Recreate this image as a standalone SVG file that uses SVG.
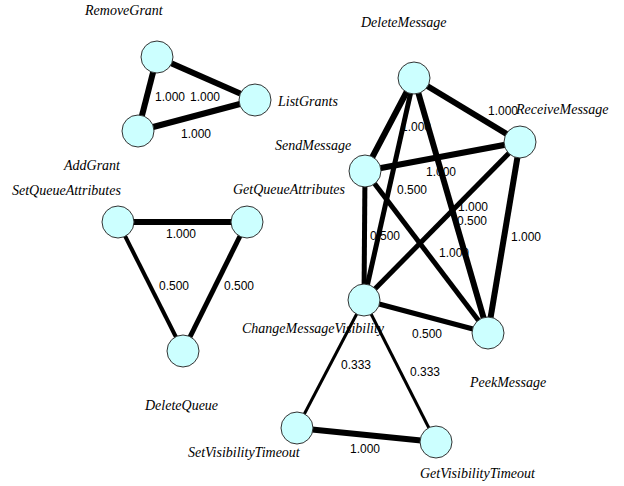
<svg xmlns="http://www.w3.org/2000/svg" width="624" height="486" viewBox="0 0 624 486">
<style>
.e{stroke:#000;fill:none;stroke-linecap:butt}
.w6{stroke-width:6}
.w5{stroke-width:5}
.w4{stroke-width:4}
.w3{stroke-width:3}
.n circle{fill:#ccffff;stroke:#333;stroke-width:1}
.n text{font-family:"Liberation Serif","Times New Roman",serif;font-style:italic;font-size:14px;fill:#000}
.l{font-family:"Liberation Sans",Arial,sans-serif;font-size:12px;fill:#000}
</style>
<rect width="624" height="486" fill="#fff"/>
<g id="edge-labels">
<text class="l" x="155" y="101">1.000</text>
<text class="l" x="190" y="101">1.000</text>
<text class="l" x="181" y="138">1.000</text>
<text class="l" x="166" y="238">1.000</text>
<text class="l" x="159" y="290">0.500</text>
<text class="l" x="224" y="290">0.500</text>
<text class="l" x="488" y="115">1.000</text>
<text class="l" x="401" y="131">1.000</text>
<text class="l" x="426" y="176">1.000</text>
<text class="l" x="397" y="194">0.500</text>
<text class="l" x="458" y="211">1.000</text>
<text class="l" x="457" y="225">0.500</text>
<text class="l" x="370" y="240">0.500</text>
<text class="l" x="439" y="257">1.000</text>
<text class="l" x="511" y="241">1.000</text>
<text class="l" x="412" y="338">0.500</text>
<text class="l" x="341" y="369">0.333</text>
<text class="l" x="410" y="376">0.333</text>
<text class="l" x="350" y="453">1.000</text>
</g>
<g id="connectors">
<line class="e w6" x1="157" y1="57" x2="255" y2="100"/>
<line class="e w6" x1="157" y1="57" x2="138" y2="131"/>
<line class="e w6" x1="138" y1="131" x2="255" y2="100"/>
<line class="e w6" x1="118" y1="222" x2="247" y2="222"/>
<line class="e w4" x1="118" y1="222" x2="183" y2="351"/>
<line class="e w5" x1="247" y1="222" x2="183" y2="351"/>
<line class="e w6" x1="414" y1="78" x2="520" y2="142"/>
<line class="e w6" x1="414" y1="78" x2="365" y2="171"/>
<line class="e w5" x1="414" y1="78" x2="364" y2="300"/>
<line class="e w6" x1="414" y1="78" x2="488" y2="333"/>
<line class="e w6" x1="365" y1="171" x2="520" y2="142"/>
<line class="e w5" x1="365" y1="171" x2="364" y2="300"/>
<line class="e w5" x1="365" y1="171" x2="488" y2="333"/>
<line class="e w5" x1="520" y1="142" x2="364" y2="300"/>
<line class="e w6" x1="520" y1="142" x2="488" y2="333"/>
<line class="e w5" x1="364" y1="300" x2="488" y2="333"/>
<line class="e w3" x1="364" y1="300" x2="297" y2="428"/>
<line class="e w3" x1="364" y1="300" x2="436" y2="442"/>
<line class="e w6" x1="297" y1="428" x2="436" y2="442"/>
</g>
<g id="RemoveGrant" class="n"><circle cx="157" cy="57" r="16"/><text x="85" y="15">RemoveGrant</text></g>
<g id="ListGrants" class="n"><circle cx="255" cy="100" r="16"/><text x="278" y="106">ListGrants</text></g>
<g id="AddGrant" class="n"><circle cx="138" cy="131" r="16"/><text x="64" y="170">AddGrant</text></g>
<g id="SetQueueAttributes" class="n"><circle cx="118" cy="222" r="16"/><text x="12" y="195">SetQueueAttributes</text></g>
<g id="GetQueueAttributes" class="n"><circle cx="247" cy="222" r="16"/><text x="233" y="194">GetQueueAttributes</text></g>
<g id="DeleteQueue" class="n"><circle cx="183" cy="351" r="16"/><text x="145" y="410">DeleteQueue</text></g>
<g id="DeleteMessage" class="n"><circle cx="414" cy="78" r="16"/><text x="361" y="27">DeleteMessage</text></g>
<g id="ReceiveMessage" class="n"><circle cx="520" cy="142" r="16"/><text x="516" y="114">ReceiveMessage</text></g>
<g id="SendMessage" class="n"><circle cx="365" cy="171" r="16"/><text x="275" y="150">SendMessage</text></g>
<g id="ChangeMessageVisibility" class="n"><circle cx="364" cy="300" r="16"/><text x="242" y="333">ChangeMessageVisibility</text></g>
<g id="PeekMessage" class="n"><circle cx="488" cy="333" r="16"/><text x="470" y="387">PeekMessage</text></g>
<g id="SetVisibilityTimeout" class="n"><circle cx="297" cy="428" r="16"/><text x="188" y="457">SetVisibilityTimeout</text></g>
<g id="GetVisibilityTimeout" class="n"><circle cx="436" cy="442" r="16"/><text x="420" y="478">GetVisibilityTimeout</text></g>
</svg>
